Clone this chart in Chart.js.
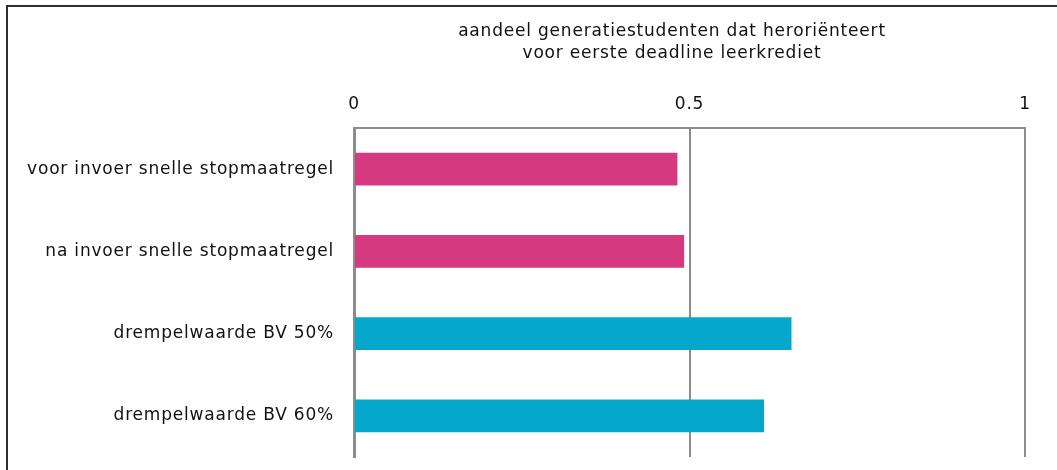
<!DOCTYPE html>
<html>
<head>
<meta charset="utf-8">
<script src="https://cdn.jsdelivr.net/npm/chart.js@4/dist/chart.umd.min.js"></script>
<style>
  html, body { margin: 0; padding: 0; background: #fff; overflow: hidden; width: 1057px; height: 470px; }
  #ftop { position: absolute; left: 6px; top: 5px; width: 1051px; height: 2px; background: #2e2e2e; }
  #fleft { position: absolute; left: 6px; top: 5px; width: 2px; height: 465px; background: #2e2e2e; }
  #wrap { position: absolute; left: 0; top: 0; width: 1057px; height: 470px; }
</style>
</head>
<body>
<div id="ftop"></div>
<div id="fleft"></div>
<div id="wrap"><canvas id="c" width="1057" height="470"></canvas></div>
<script>
const categories = [
  "voor invoer snelle stopmaatregel",
  "na invoer snelle stopmaatregel",
  "drempelwaarde BV 50%",
  "drempelwaarde BV 60%"
];
const values = [0.482, 0.492, 0.652, 0.611];
const barColors = ["#d5397f", "#d5397f", "#05a8cb", "#05a8cb"];
const titleLines = [
  "aandeel generatiestudenten dat heroriënteert",
  "voor eerste deadline leerkrediet"
];
const tickValues = [0, 0.5, 1];
const tickLabels = ["0", "0.5", "1"];

const spacingPlugin = {
  id: 'spacing',
  beforeDraw(chart) { chart.ctx.letterSpacing = '0.8px'; }
};

const titlePlugin = {
  id: 'twoLineTitle',
  afterDraw(chart) {
    const ctx = chart.ctx;
    ctx.save();
    ctx.letterSpacing = '0.8px';
    ctx.font = '17px "DejaVu Sans"';
    ctx.fillStyle = '#111';
    ctx.textAlign = 'center';
    ctx.textBaseline = 'middle';
    ctx.fillText(titleLines[0], 672, 32);
    ctx.fillText(titleLines[1], 672, 54);
    ctx.restore();
  }
};

new Chart(document.getElementById('c'), {
  type: 'bar',
  data: {
    labels: categories,
    datasets: [{
      data: values,
      backgroundColor: barColors,
      borderWidth: 0,
      categoryPercentage: 0.8,
      barPercentage: 0.5
    }]
  },
  options: {
    indexAxis: 'y',
    responsive: false,
    animation: false,
    layout: { padding: { left: 0, right: 32, top: 0, bottom: 13 } },
    plugins: { legend: { display: false }, tooltip: { enabled: false }, title: { display: false } },
    scales: {
      x: {
        position: 'top',
        min: 0, max: 1,
        afterBuildTicks(scale) { scale.ticks = tickValues.map(v => ({ value: v })); },
        afterFit(scale) { scale.height = 128; },
        grid: { color: '#898d8c', lineWidth: 2, drawTicks: false },
        border: { color: '#898d8c', width: 2 },
        ticks: {
          padding: 13,
          color: '#111',
          font: { family: 'DejaVu Sans', size: 17 },
          callback(v) { const i = tickValues.indexOf(v); return i >= 0 ? tickLabels[i] : ''; }
        }
      },
      y: {
        afterFit(scale) { scale.width = 354; scale.paddingTop = 0; scale.paddingBottom = 0; },
        grid: { display: false, drawTicks: false },
        border: { color: '#898d8c', width: 3 },
        ticks: {
          padding: 20,
          color: '#111',
          font: { family: 'DejaVu Sans', size: 17 }
        }
      }
    }
  },
  plugins: [spacingPlugin, titlePlugin]
});
</script>
</body>
</html>
